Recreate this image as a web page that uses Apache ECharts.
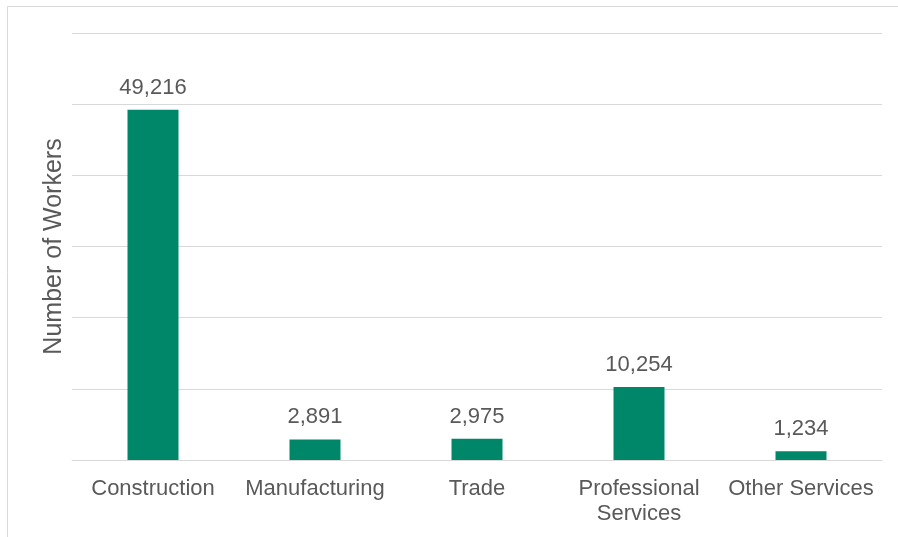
<!DOCTYPE html>
<html>
<head>
<meta charset="utf-8">
<script src="https://cdn.jsdelivr.net/npm/echarts@6/dist/echarts.min.js"></script>
<style>
  html, body { margin: 0; padding: 0; background: #ffffff; }
  #chart { width: 898px; height: 537px; }
</style>
</head>
<body>
<div id="chart"></div>
<script>
// ---------------- data ----------------
const categories = ['Construction', 'Manufacturing', 'Trade', 'Professional\nServices', 'Other Services'];
const workers = [49216, 2891, 2975, 10254, 1234];
const yTicks = [0, 10000, 20000, 30000, 40000, 50000, 60000];

// ---------------- options ----------------
const textColor = '#595959';
const gridColor = '#d9d9d9';
const barColor = '#00876a';
const font = 'Liberation Sans, Arial, sans-serif';

let option = {
    animation: false,
    graphic: [{
        type: 'rect',
        shape: { x: 7.5, y: 6.5, width: 900, height: 540 },
        style: { fill: 'none', stroke: gridColor, lineWidth: 1 },
        silent: true
    }],
    grid: { left: 72, right: 16, top: 33, bottom: 77 },
    xAxis: {
        type: 'category',
        data: categories,
        axisLine: { lineStyle: { color: gridColor, width: 1 } },
        axisTick: { show: false },
        axisLabel: {
            color: textColor, fontFamily: font, fontSize: 22,
            lineHeight: 25, margin: 16, interval: 0
        }
    },
    yAxis: {
        type: 'value',
        min: yTicks[0],
        max: yTicks[yTicks.length - 1],
        interval: yTicks[1] - yTicks[0],
        name: 'Number of Workers',
        nameLocation: 'middle',
        nameGap: 5,
        nameTextStyle: { color: textColor, fontFamily: font, fontSize: 25 },
        axisLabel: { show: false },
        axisLine: { show: false },
        axisTick: { show: false },
        splitLine: { lineStyle: { color: gridColor, width: 1 } }
    },
    series: [{
        type: 'bar',
        data: workers,
        barWidth: 51,
        itemStyle: { color: barColor },
        label: {
            show: true,
            position: 'top',
            distance: 11,
            color: textColor,
            fontFamily: font,
            fontSize: 22,
            formatter: p => p.value.toLocaleString('en-US')
        }
    }]
};

echarts.init(document.getElementById('chart')).setOption(option);
</script>
</body>
</html>
